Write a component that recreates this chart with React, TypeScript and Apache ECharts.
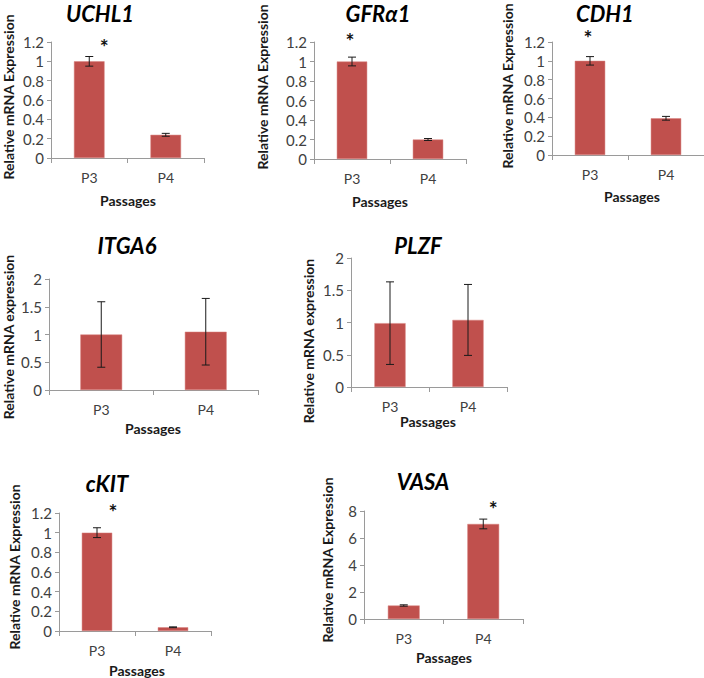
import React, { useEffect, useRef } from "react";
import * as echarts from "echarts";

const categories = ["P3", "P4"];

const uchl1Values = [1.0, 0.24];
const uchl1Errors = [0.05, 0.015];
const uchl1Stars = ["*", ""];

const gfra1Values = [1.0, 0.2];
const gfra1Errors = [0.045, 0.01];
const gfra1Stars = ["*", ""];

const cdh1Values = [1.0, 0.39];
const cdh1Errors = [0.045, 0.02];
const cdh1Stars = ["*", ""];

const itga6Values = [1.0, 1.05];
const itga6Errors = [0.59, 0.6];
const itga6Stars = ["", ""];

const plzfValues = [0.99, 1.04];
const plzfErrors = [0.64, 0.55];
const plzfStars = ["", ""];

const ckitValues = [1.0, 0.038];
const ckitErrors = [0.05, 0.004];
const ckitStars = ["*", ""];

const vasaValues = [1.0, 7.04];
const vasaErrors = [0.05, 0.36];
const vasaStars = ["", "*"];

const yMaxes = [1.2, 1.2, 1.2, 2, 2, 1.2, 8];
const yIntervals = [0.2, 0.2, 0.2, 0.5, 0.5, 0.2, 2];

const panels = [
  { name: "UCHL1", values: uchl1Values, errors: uchl1Errors, stars: uchl1Stars, yTitle: "Relative mRNA Expression" },
  { name: "GFRα1", values: gfra1Values, errors: gfra1Errors, stars: gfra1Stars, yTitle: "Relative mRNA Expression" },
  { name: "CDH1", values: cdh1Values, errors: cdh1Errors, stars: cdh1Stars, yTitle: "Relative mRNA Expression" },
  { name: "ITGA6", values: itga6Values, errors: itga6Errors, stars: itga6Stars, yTitle: "Relative mRNA expression" },
  { name: "PLZF", values: plzfValues, errors: plzfErrors, stars: plzfStars, yTitle: "Relative mRNA expression" },
  { name: "cKIT", values: ckitValues, errors: ckitErrors, stars: ckitStars, yTitle: "Relative mRNA Expression" },
  { name: "VASA", values: vasaValues, errors: vasaErrors, stars: vasaStars, yTitle: "Relative mRNA Expression" },
];

// layout (pixels)
const layout = [
  { left: 51, top: 42, width: 153, height: 116, title: [100, 13], xTitle: [128, 200], yTitle: [8, 97], star: [15, -10] },
  { left: 314, top: 42, width: 152, height: 117, title: [378, 13], xTitle: [380, 201], yTitle: [262, 87], star: [-2, -17] },
  { left: 552, top: 42, width: 152, height: 113, title: [605, 13], xTitle: [632, 196], yTitle: [507, 86], star: [-2, -19] },
  { left: 49, top: 279, width: 209, height: 111, title: [127, 245], xTitle: [153, 428], yTitle: [8, 337], star: [0, -12] },
  { left: 351, top: 258, width: 156, height: 129, title: [418, 245], xTitle: [428, 421], yTitle: [308, 341], star: [0, -12] },
  { left: 59, top: 513, width: 152, height: 118, title: [107, 483], xTitle: [137, 670], yTitle: [14, 567], star: [16, -16] },
  { left: 364, top: 511, width: 159, height: 108, title: [423, 481], xTitle: [444, 657], yTitle: [327, 560], star: [10, -11] },
];

const BAR = "#C0504D";
const AXIS = "#9a9a9a";
const LABEL = "#404040";
const FONT = "Lato, 'Open Sans', sans-serif";

export default function App() {
  const ref = useRef<HTMLDivElement>(null);
  useEffect(() => {
    if (!ref.current) return;
    const chart = echarts.init(ref.current, undefined, { renderer: "svg" });
    const grid: any[] = [];
    const xAxis: any[] = [];
    const yAxis: any[] = [];
    const series: any[] = [];
    const graphic: any[] = [];
    panels.forEach((p, i) => {
      const L = layout[i];
      grid.push({ left: L.left, top: L.top, width: L.width, height: L.height, containLabel: false });
      xAxis.push({
        type: "category",
        gridIndex: i,
        data: categories,
        axisLine: { lineStyle: { color: AXIS, width: 1 } },
        axisTick: { show: true, length: 5, lineStyle: { color: AXIS } },
        axisLabel: { color: LABEL, fontSize: 14, fontFamily: FONT, margin: 12 },
        splitLine: { show: false },
      });
      yAxis.push({
        type: "value",
        gridIndex: i,
        min: 0,
        max: yMaxes[i],
        interval: yIntervals[i],
        axisLine: { show: true, lineStyle: { color: AXIS, width: 1 } },
        axisTick: { show: true, length: 4, lineStyle: { color: AXIS } },
        axisLabel: { color: LABEL, fontSize: 15, fontFamily: FONT, margin: 7 },
        splitLine: { show: false },
      });
      series.push({
        type: "bar",
        xAxisIndex: i,
        yAxisIndex: i,
        data: p.values,
        barWidth: "40%",
        itemStyle: { color: BAR, borderColor: "#d9807e", borderWidth: 0.5 },
        silent: true,
      });
      series.push({
        type: "custom",
        xAxisIndex: i,
        yAxisIndex: i,
        data: p.values.map((v, k) => [k, v, p.errors[k]]),
        z: 5,
        renderItem: (params: any, api: any) => {
          const x = api.value(0);
          const v = api.value(1);
          const e = api.value(2);
          const top = api.coord([x, v + e]);
          const bot = api.coord([x, v - e]);
          const h = 4;
          const st = { stroke: "#1a1a1a", lineWidth: 1 };
          return {
            type: "group",
            children: [
              { type: "line", shape: { x1: top[0], y1: top[1], x2: bot[0], y2: bot[1] }, style: st },
              { type: "line", shape: { x1: top[0] - h, y1: top[1], x2: top[0] + h, y2: top[1] }, style: st },
              { type: "line", shape: { x1: bot[0] - h, y1: bot[1], x2: bot[0] + h, y2: bot[1] }, style: st },
            ],
          };
        },
      });
      series.push({
        type: "custom",
        xAxisIndex: i,
        yAxisIndex: i,
        data: p.values.map((v, k) => [k, v + p.errors[k], p.stars[k]]),
        z: 6,
        renderItem: (params: any, api: any) => {
          const idx = params.dataIndex;
          const s = p.stars[idx];
          if (!s) return null;
          const pt = api.coord([api.value(0), api.value(1)]);
          return {
            type: "text",
            x: pt[0] + L.star[0],
            y: pt[1] + L.star[1],
            style: {
              text: s,
              fontSize: 21,
              fontWeight: "bold",
              fontFamily: FONT,
              fill: "#111",
              align: "center",
              verticalAlign: "middle",
            },
          };
        },
      });
      graphic.push({
        type: "text",
        x: L.title[0],
        y: L.title[1],
        style: {
          text: p.name,
          font: "italic bold 22px " + FONT,
          fill: "#000",
          align: "center",
          verticalAlign: "middle",
        },
      });
      graphic.push({
        type: "text",
        x: L.xTitle[0],
        y: L.xTitle[1],
        style: {
          text: "Passages",
          font: "bold 14px " + FONT,
          fill: "#1a1a1a",
          align: "center",
          verticalAlign: "middle",
        },
      });
      graphic.push({
        type: "text",
        x: L.yTitle[0],
        y: L.yTitle[1],
        rotation: Math.PI / 2,
        style: {
          text: p.yTitle,
          font: "bold 14px " + FONT,
          fill: "#1a1a1a",
          align: "center",
          verticalAlign: "middle",
        },
      });
    });
    chart.setOption({
      animation: false,
      backgroundColor: "#ffffff",
      grid,
      xAxis,
      yAxis,
      series,
      graphic,
    });
    return () => chart.dispose();
  }, []);
  return (
    <div
      ref={ref}
      style={{ position: "absolute", left: 0, top: 0, width: 704, height: 678 }}
    />
  );
}
